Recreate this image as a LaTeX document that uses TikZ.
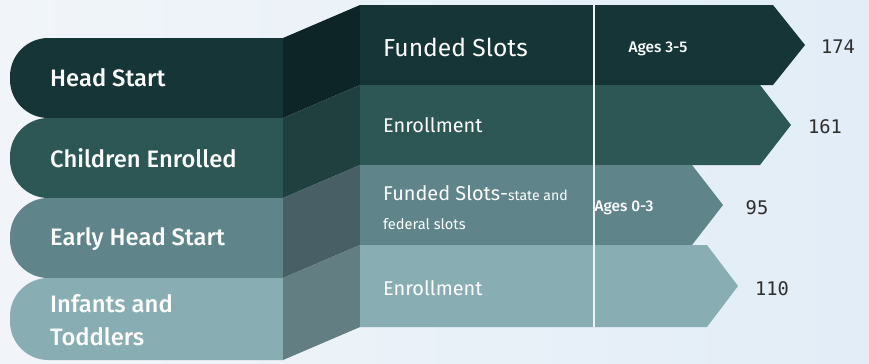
\documentclass[tikz,border=0pt]{standalone}
\usepackage{fontspec}
\setmainfont{Fira Sans}
\newfontfamily\medfont{Fira Sans}[UprightFont={* Medium}]
\newfontfamily\numfont{DejaVu Sans Mono}
\definecolor{bgA}{HTML}{F1F5F9}
\definecolor{bgB}{HTML}{E2EDF7}
\definecolor{hsFront}{HTML}{153537}
\definecolor{hsSide}{HTML}{0E2527}
\definecolor{ceFront}{HTML}{2C5755}
\definecolor{ceSide}{HTML}{20403F}
\definecolor{ehFront}{HTML}{5F858A}
\definecolor{ehSide}{HTML}{475F65}
\definecolor{itFront}{HTML}{88AEB4}
\definecolor{itSide}{HTML}{637E82}
\definecolor{countGray}{HTML}{2E2E2E}
\begin{document}
\begin{tikzpicture}[x=0.03cm,y=-0.03cm,group node/.style={font=\medfont\fontsize{20.3}{29}\selectfont, text=white, anchor=west, align=left, inner sep=0pt},row node/.style={font=\fontsize{17}{20}\selectfont, text=white, anchor=west, inner sep=0pt},age node/.style={font=\medfont\fontsize{13.2}{15}\selectfont, text=white, inner sep=0pt},count node/.style={font=\numfont\fontsize{16}{18}\selectfont, text=countGray, inner sep=0pt},left band/.style={rounded corners=1.15cm},divider/.style={draw=white!90!gray, line width=1.2pt}]%
\shade[left color=bgA, right color=bgB] (0,0) rectangle (869,363);%
  % Head Start%
\fill[hsFront] (283,38) [left band] -- (10,38) -- (10,118) [sharp corners] -- (283,118) -- cycle;%
\fill[hsSide] (283,38) -- (360,5) -- (360,85) -- (283,118) -- cycle;%
\fill[hsFront] (360,5) -- (773,5) -- (805,45) -- (773,85) -- (360,85) -- cycle;%
  % Children Enrolled%
\fill[ceFront] (283,118) [left band] -- (10,118) -- (10,198) [sharp corners] -- (283,198) -- cycle;%
\fill[ceSide] (283,118) -- (360,85) -- (360,165) -- (283,198) -- cycle;%
\fill[ceFront] (360,85) -- (760,85) -- (791,125) -- (760,165) -- (360,165) -- cycle;%
  % Early Head Start%
\fill[ehFront] (283,198) [left band] -- (10,198) -- (10,278) [sharp corners] -- (283,278) -- cycle;%
\fill[ehSide] (283,198) -- (360,165) -- (360,245) -- (283,278) -- cycle;%
\fill[ehFront] (360,165) -- (692,165) -- (723,205) -- (692,245) -- (360,245) -- cycle;%
  % Infants and Toddlers%
\fill[itFront] (283,278) [left band] -- (10,278) -- (10,360) [sharp corners] -- (283,360) -- cycle;%
\fill[itSide] (283,278) -- (360,245) -- (360,327) -- (283,360) -- cycle;%
\fill[itFront] (360,245) -- (707,245) -- (738,286) -- (707,327) -- (360,327) -- cycle;%
  % divider%
\coordinate (divtop) at (594,5);%
\coordinate (divbot) at (594,327);%
\path[divider] (divtop) -- (divbot);%
  % labels%
\node[group node] (headstart) at (50,78) {Head Start};%
\node[group node] (enrolled) at (50,158) {Children Enrolled};%
\node[group node] (early) at (50,239) {Early Head Start};%
\node[group node, font=\medfont\fontsize{20.3}{28}\selectfont] (infants) at (50,320) {Infants and\\Toddlers};%
\node[row node, font=\fontsize{21}{24}\selectfont] (slotsA) at (383,47) {Funded Slots};%
\node[row node] (enrollA) at (383,125) {Enrollment};%
\node[row node] (slotsB) at (383,193) {Funded Slots-{\fontsize{12}{14}\selectfont state and}};%
\node[row node, font=\fontsize{12.5}{14}\selectfont] (slotsBb) at (383,224) {federal slots};%
\node[row node] (enrollB) at (383,288) {Enrollment};%
\node[age node] (agesA) at (658,49) {Ages 3-5};%
\node[age node] (agesB) at (624,208) {Ages 0-3};%
\node[count node] (countA) at (838,47) {174};%
\node[count node] (countB) at (825,127) {161};%
\node[count node] (countC) at (757,208) {95};%
\node[count node] (countD) at (772,289) {110};%
\path[use as bounding box] (0,0) rectangle (869,363);%
\end{tikzpicture}
\end{document}
